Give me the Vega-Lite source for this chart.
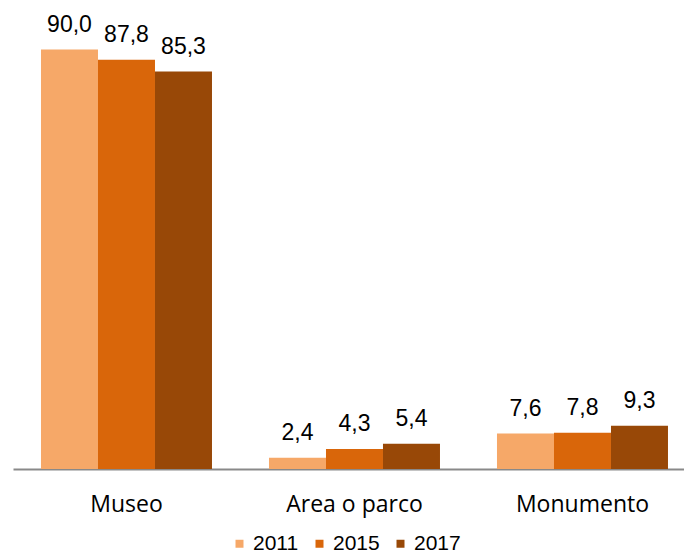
{
  "$schema": "https://vega.github.io/schema/vega-lite/v6.json",
  "autosize": "none",
  "width": 671,
  "height": 466,
  "padding": {"left": 13, "top": 3, "right": 0, "bottom": 87},
  "background": "white",
  "config": {
    "view": {"stroke": null},
    "locale": {"number": {"decimal": ",", "thousands": ".", "grouping": [3], "currency": ["€", ""]}}
  },
  "data": {
    "values": [
      {"luogo": "Museo", "anno": "2011", "valore": 90.0},
      {"luogo": "Museo", "anno": "2015", "valore": 87.8},
      {"luogo": "Museo", "anno": "2017", "valore": 85.3},
      {"luogo": "Area o parco", "anno": "2011", "valore": 2.4},
      {"luogo": "Area o parco", "anno": "2015", "valore": 4.3},
      {"luogo": "Area o parco", "anno": "2017", "valore": 5.4},
      {"luogo": "Monumento", "anno": "2011", "valore": 7.6},
      {"luogo": "Monumento", "anno": "2015", "valore": 7.8},
      {"luogo": "Monumento", "anno": "2017", "valore": 9.3}
    ]
  },
  "encoding": {
    "x": {
      "field": "luogo",
      "type": "nominal",
      "sort": ["Museo", "Area o parco", "Monumento"],
      "scale": {"paddingInner": 0.25, "paddingOuter": 0.0965, "align": 0.636},
      "axis": {
        "title": null,
        "labelAngle": 0,
        "ticks": false,
        "tickSize": 0,
        "labelFont": "Open Sans",
        "labelFontSize": 23,
        "labelColor": "#000000",
        "labelBaseline": "top",
        "labelPadding": 24,
        "domainColor": "#898989",
        "domainWidth": 2,
        "grid": false
      }
    },
    "xOffset": {"field": "anno", "type": "nominal", "scale": {"paddingInner": 0, "paddingOuter": 0}},
    "y": {
      "field": "valore",
      "type": "quantitative",
      "scale": {"domain": [0, 100], "nice": false},
      "axis": null
    }
  },
  "layer": [
    {
      "mark": {"type": "bar"},
      "encoding": {
        "color": {
          "field": "anno",
          "type": "nominal",
          "scale": {"domain": ["2011", "2015", "2017"], "range": ["#F6A868", "#D9660A", "#984807"]},
          "legend": {
            "title": null,
            "orient": "none",
            "legendX": 216,
            "legendY": 530,
            "direction": "horizontal",
            "symbolType": "square",
            "symbolSize": 64,
            "symbolStrokeWidth": 0,
            "labelFont": "Liberation Sans",
            "labelFontSize": 21,
            "labelColor": "#000000",
            "labelOffset": 3,
            "columnPadding": 10
          }
        }
      }
    },
    {
      "mark": {"type": "text", "baseline": "alphabetic", "dy": -18, "font": "Liberation Sans", "fontSize": 23, "color": "#000000"},
      "encoding": {
        "text": {"field": "valore", "type": "quantitative", "format": ".1f"}
      }
    }
  ]
}
